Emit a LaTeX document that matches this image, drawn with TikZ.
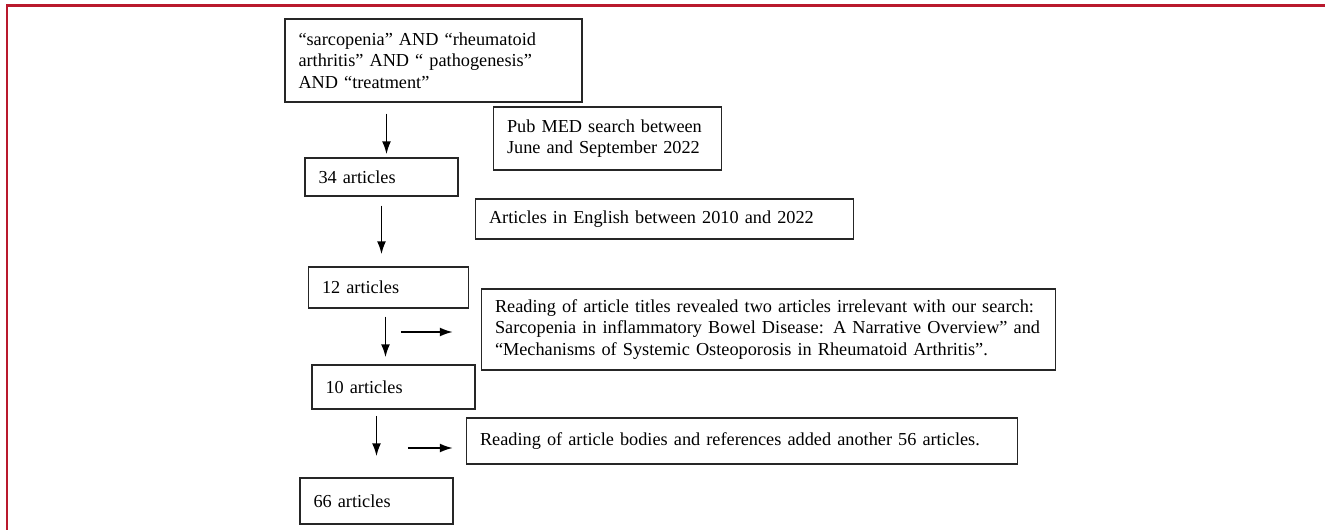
\documentclass[tikz,border=0pt]{standalone}
\usepackage{fontspec}
\setmainfont{Liberation Serif}
\usepackage{tikz}
\usetikzlibrary{positioning}
\usetikzlibrary{arrows.meta}
\usepackage{xcolor}
\definecolor{framered}{RGB}{185,25,45}

\begin{document}
\begin{tikzpicture}[node distance=2cm,on grid,
        box/.style={draw=black!85,line width=0.85pt,align=left,inner xsep=0.27cm,inner ysep=0pt,font=\fontsize{10.4}{12.2}\selectfont},
        flow/.style={-{Latex[length=0.26cm,width=0.18cm]},line width=0.95pt},
        frame/.style={framered,line width=1.6pt}]
        \useasboundingbox (0,0) rectangle (26.5,-10.6);
        \draw[frame] (0.14,-10.6) |- (26.5,-0.11);
        % main column
        \node[box,text width=5.4cm,minimum height=1.66cm] (query) at (8.67,-1.21) {“sarcopenia” AND “rheumatoid\\ arthritis” AND “ pathogenesis”\\ AND “treatment”};
        \node[box,text width=2.52cm,minimum height=0.76cm] (a34) [below=2.33cm of query, xshift=-1.04cm] {34 articles};
        \node[box,text width=2.66cm,minimum height=0.82cm] (a12) [below=2.21cm of a34, xshift=0.14cm] {12 articles};
        \node[box,text width=2.72cm,minimum height=0.88cm] (a10) [below=1.99cm of a12, xshift=0.1cm] {10 articles};
        \node[box,text width=2.52cm,minimum height=0.92cm] (a66) [below=2.28cm of a10, xshift=-0.34cm] {66 articles};
        % side notes
        \node[box,text width=4.02cm,minimum height=1.26cm] (pubmed) [right=4.52cm of a34, yshift=0.77cm] {Pub MED search between\\ June and September 2022};
        \node[box,text width=7.02cm,minimum height=0.8cm] (english) [right=5.66cm of a34, yshift=-0.84cm] {Articles in English between 2010 and 2022};
        \node[box,text width=10.94cm,minimum height=1.62cm] (reading) [right=7.6cm of a12, yshift=-0.84cm] {Reading of article titles revealed two articles irrelevant with our search:\\ Sarcopenia in inflammatory Bowel Disease: A Narrative Overview” and\\ “Mechanisms of Systemic Osteoporosis in Rheumatoid Arthritis”.};
        \node[box,text width=10.48cm,minimum height=0.92cm] (bodies) [right=6.97cm of a10, yshift=-1.08cm] {Reading of article bodies and references added another 56 articles.};
        % arrows
        \draw[flow,shorten <=0.22cm,shorten >=0.06cm] ([xshift=0.1cm]a34.north |- query.south) -- ([xshift=0.1cm]a34.north);
        \draw[flow,shorten <=0.18cm,shorten >=0.24cm] (a34.south) -- (a34.south |- a12.north);
        \draw[flow,shorten <=0.16cm,shorten >=0.14cm] ([xshift=-0.06cm]a12.south) -- ([xshift=-0.06cm]a12.south |- a10.north);
        \draw[flow,shorten <=0.12cm,shorten >=0.42cm] (a66.north |- a10.south) -- (a66.north);
        \draw[flow] ([xshift=-1.6cm,yshift=-0.05cm]reading.west) -- ([xshift=-0.56cm,yshift=-0.05cm]reading.west);
        \draw[flow] ([xshift=-1.16cm,yshift=-0.14cm]bodies.west) -- ([xshift=-0.26cm,yshift=-0.14cm]bodies.west);
\end{tikzpicture}
\end{document}
